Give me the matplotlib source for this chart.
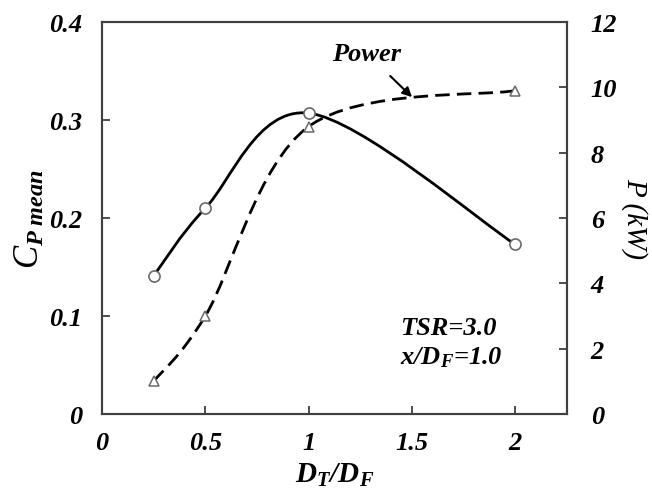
import numpy as np
import matplotlib.pyplot as plt
from matplotlib.path import Path
from matplotlib.patches import PathPatch

# data
dt_df = [0.25, 0.5, 1.0, 2.0]
cp_mean = [0.141, 0.210, 0.307, 0.173]
power_kw = [1.0, 3.0, 8.8, 9.9]

plt.rcParams['font.family'] = ['Liberation Serif', 'DejaVu Serif']
plt.rcParams['font.weight'] = 'bold'
plt.rcParams['font.style'] = 'italic'
plt.rcParams['mathtext.fontset'] = 'custom'
plt.rcParams['mathtext.it'] = 'Liberation Serif:italic:normal'
plt.rcParams['mathtext.rm'] = 'Liberation Serif:italic:bold'
plt.rcParams['mathtext.bf'] = 'Liberation Serif:italic:bold'

fig = plt.figure(figsize=(6.52, 4.89), dpi=100)
ax = fig.add_axes([0.1564, 0.1513, 0.7133, 0.8017])
ax2 = ax.twinx()

ax.set_xlim(0, 2.25)
ax.set_ylim(0, 0.4)
ax2.set_ylim(0, 12)


def smooth(axis, xs, ys, **kw):
    # excel-like smoothed line: bezier through the points, built in pixel space
    pts = axis.transData.transform(np.column_stack([xs, ys]))
    n = len(pts)
    verts = [pts[0]]
    codes = [Path.MOVETO]
    for i in range(n - 1):
        p0 = pts[i - 1] if i > 0 else pts[i]
        p1 = pts[i]
        p2 = pts[i + 1]
        p3 = pts[i + 2] if i + 2 < n else pts[i + 1]
        c1 = p1 + (p2 - p0) / 6
        c2 = p2 - (p3 - p1) / 6
        verts += [c1, c2, p2]
        codes += [Path.CURVE4] * 3
    path = Path(np.array(verts), codes)
    patch = PathPatch(path, transform=None, fill=False, **kw)
    axis.add_patch(patch)
    return patch


ax.plot(dt_df, cp_mean, 'o', ms=8, mfc='white', mec='#6a6a6a', mew=1.2, zorder=5)
ax2.plot(dt_df, power_kw, '^', ms=7.5, mfc='white', mec='#6a6a6a', mew=1.1, zorder=5)

fig.canvas.draw()
smooth(ax, dt_df, cp_mean, color='black', lw=2.0)
smooth(ax2, dt_df, power_kw, color='black', lw=2.0, linestyle=(0, (5.2, 2.6)))

ax.set_xticks([0, 0.5, 1, 1.5, 2])
ax.set_xticklabels(['0', '0.5', '1', '1.5', '2'])
ax.set_yticks([0, 0.1, 0.2, 0.3, 0.4])
ax.set_yticklabels(['0', '0.1', '0.2', '0.3', '0.4'])
ax2.set_yticks([0, 2, 4, 6, 8, 10, 12])

for a in (ax, ax2):
    for s in a.spines.values():
        s.set_color('#404040')
        s.set_linewidth(1.5)
ax.tick_params(axis='x', direction='in', length=6, width=1.3, color='#404040', labelsize=19, pad=12)
ax.tick_params(axis='y', direction='in', length=6, width=1.3, color='#404040', labelsize=19, pad=14)
ax2.tick_params(axis='y', direction='in', length=6, width=1.3, color='#404040', labelsize=19, pad=17)

ax.set_xlabel(r'$\mathbf{D_T/D_F}$', fontsize=21, labelpad=5)
ax.set_ylabel(r'$C_{\mathbf{P\ mean}}$', fontsize=25, labelpad=2)
ax2.set_ylabel('P (kW)', fontsize=21, fontweight='normal', rotation=270, labelpad=22)

ax2.annotate('Power', xy=(1.5, 9.7), xytext=(1.28, 11.05), fontsize=19, ha='center', va='center',
             arrowprops=dict(arrowstyle='-|>', color='black', lw=1.5, shrinkA=9, shrinkB=0,
                             mutation_scale=14))
ax.text(1.44, 0.088, 'TSR=3.0', fontsize=19, ha='left', va='center')
ax.text(1.44, 0.058, r'$\mathbf{x/D_F}$=1.0', fontsize=19, ha='left', va='center')

fig.savefig('out.png', dpi=100)
